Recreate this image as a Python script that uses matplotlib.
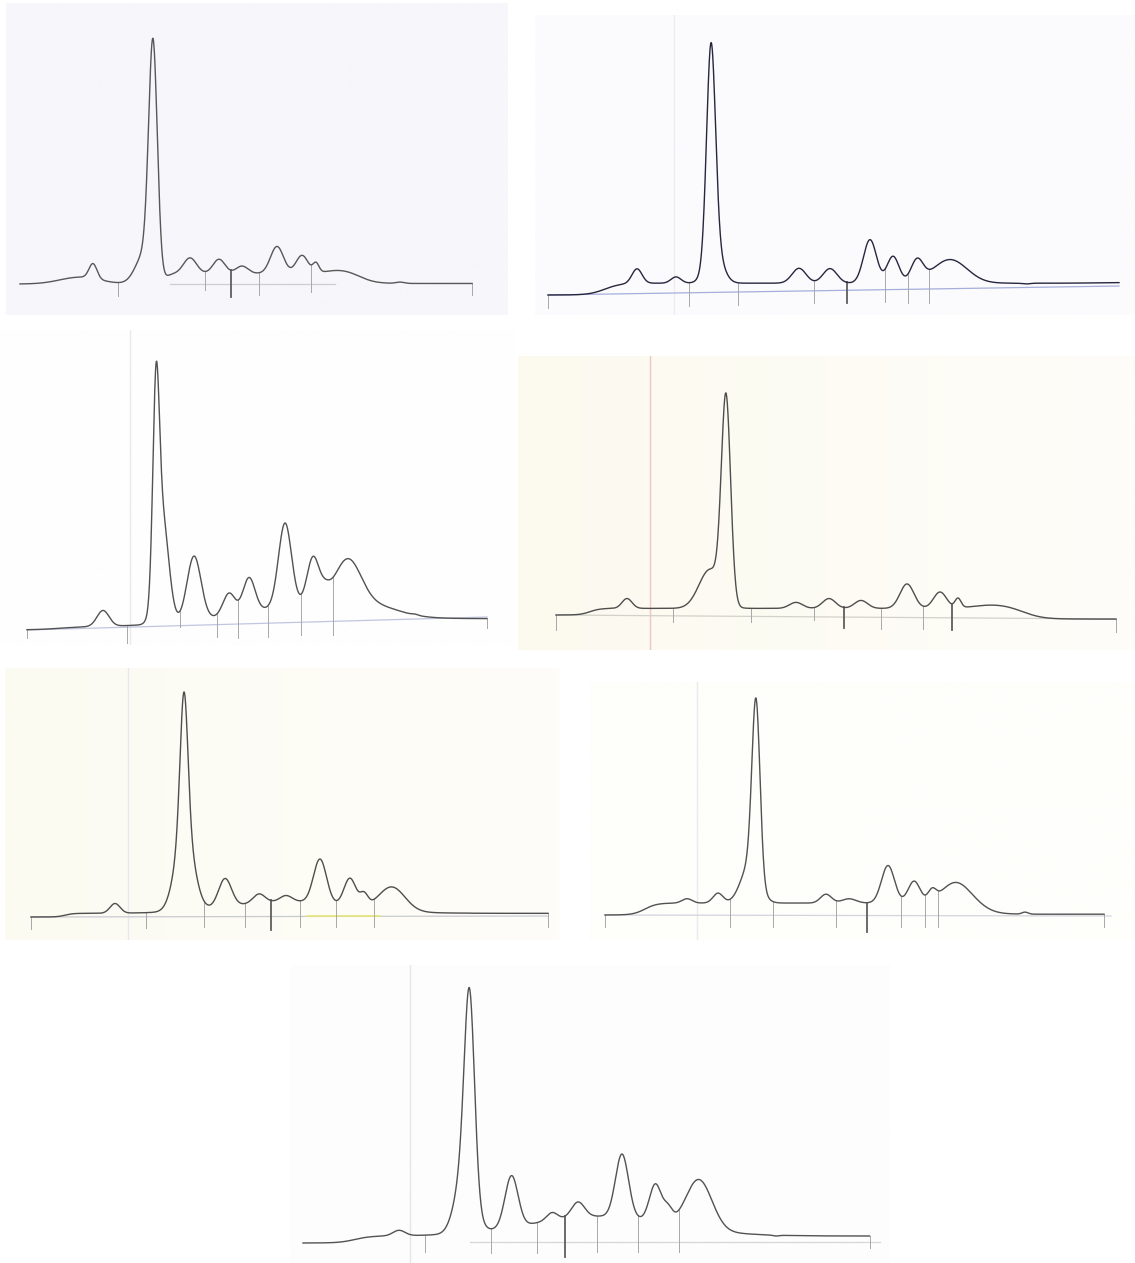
import numpy as np
import matplotlib.pyplot as plt
from matplotlib.colors import to_rgb

W, H = 1135, 1263

# --- densitometry scans: positions along the strip (px) and density above start level ---

# scan 1
p1_box = (6, 3, 508, 315)        # left, top, right, bottom
p1_base = 284
p1_x = [20, 43, 60, 80, 86, 93, 100, 108, 118, 128, 133, 139, 148, 153, 158, 165, 172,
        190, 205, 219, 231, 242, 258, 277, 289, 302, 311, 315, 322, 338, 355, 375, 400, 430, 472]
p1_d = [0, 0, 3, 7, 8, 21, 10, 4, 3, 4, 16, 31, 124, 247, 124, 17, 12,
        27, 11, 26, 11, 19, 7, 39, 17, 29, 21, 22, 12, 15, 8, 1, 2, 1, 1]
p1_peaks = [80, 93, 145, 153, 190, 219, 242, 277, 302, 316, 340, 400]
p1_width = [20, 4, 9, 4.3, 6.5, 6, 6, 6.5, 6, 3, 14, 4]
p1_steps = [(166, 3), (362, 8)]
p1_cuts = [118, 205, 231, 259, 311, 472]
p1_cut_end = [-12, -6, -13, -11, -8, -11]
p1_bold = [231]
p1_line = ([170, 335], [0, 0])

# scan 2
p2_box = (535, 15, 1135, 315)
p2_base = 295
p2_x = [548, 570, 586, 605, 623, 637, 657, 668, 676, 688, 690, 702, 707, 708, 711, 714, 718, 727,
        733, 737, 760, 785, 799, 814, 830, 847, 870, 884, 893, 907, 917, 929, 949, 974, 991,
        1010, 1026, 1050, 1072, 1100, 1119]
p2_d = [0, 0, 0, 4, 8, 27, 7, 12, 19, 10, 12, 42, 133, 205, 258, 205, 133, 42,
        12, 10, 10, 10, 28, 14, 27, 16, 57, 30, 38, 27, 36, 27, 37, 18, 10,
        9, 11, 9, 8, 12, 13]
p2_peaks = [637, 676, 711, 714, 799, 830, 870, 893, 917, 950, 1026]
p2_width = [5, 5, 4.4, 8, 7, 7, 6.5, 6, 6, 17, 4]
p2_steps = [(605, 8), (1090, 8)]
p2_cuts = [548, 689, 738, 814, 847, 885, 908, 929]
p2_cut_end = [-13, -11, -10, -8, -8, -7, -8, -8]
p2_bold = [847]
p2_line = ([548, 1119], [0, 9])

# scan 3
p3_box = (0, 330, 515, 645)
p3_base = 630
p3_x = [27, 50, 67, 90, 103, 120, 133, 152, 153, 154.7, 156, 158.3, 164, 167, 180, 194, 216, 229,
        237, 249, 267, 285, 301, 313, 323, 333, 348, 370, 387, 400, 415, 427, 465, 487]
p3_d = [0, 1, 6, 8, 20, 7, 8, 58, 137, 238, 275, 238, 137, 112, 20, 77, 18, 37,
        32, 54, 22, 111, 40, 75, 55, 49, 75, 38, 12, 12, 16, 12, 16, 15]
p3_peaks = [103, 156, 162, 194, 229, 249, 285, 313, 325, 348, 415]
p3_width = [6, 3.2, 6.5, 7, 6, 6, 6.5, 6, 5, 13, 3]
p3_steps = [(60, 12), (395, 15), (240, 40)]
p3_cuts = [27, 127, 180, 217, 238, 268, 301, 333, 487]
p3_cut_end = [-8, -13, 3, -7, -8, -7, -5, -5, 2]
p3_bold = []
p3_line = ([27, 487], [0, 13])

# scan 4
p4_box = (518, 356, 1135, 650)
p4_base = 615
p4_x = [556, 575, 594, 612, 627, 647, 660, 677, 690, 700, 708, 713, 720.7, 726, 731.7, 737, 740,
        747, 765, 781, 796, 814, 829, 845, 861, 881, 907, 923, 940, 952, 958, 968, 992,
        1036, 1072, 1116]
p4_d = [0, 1, 4, 4, 17, 3, 2, 2, 18, 30, 40, 62, 114, 223, 114, 22, 8,
        4, 5, 6, 13, 7, 17, 7, 15, 5, 32, 13, 23, 15, 17, 8, 10,
        -3, -3, -4]
p4_peaks = [627, 710, 726, 796, 829, 861, 907, 940, 958, 995]
p4_width = [5, 11, 4.6, 6.5, 6.5, 6.5, 7, 6.5, 3, 20]
p4_steps = [(590, 5), (1025, 10)]
p4_cuts = [556, 673, 751, 814, 844, 881, 923, 952, 1116]
p4_cut_end = [-15, -7, -7, -5, -13, -14, -14, -15, -17]
p4_bold = [844, 952]
p4_line = ([556, 1116], [0, -4])

# scan 5
p5_box = (5, 668, 560, 940)
p5_base = 917
p5_x = [31, 60, 67, 79, 99, 115, 132, 147, 161, 168, 173, 179, 184, 190, 195, 199, 204,
        225, 245, 259, 271, 286, 300, 320, 336, 350, 363, 374, 392, 431, 451, 464, 477, 548]
p5_d = [0, 0, 2, 4, 4, 14, 4, 3, 10, 24, 57, 113, 226, 113, 57, 24, 9,
        40, 10, 24, 15, 22, 14, 60, 20, 40, 26, 21, 30, 1, 1, 4, 1, 4]
p5_peaks = [115, 184, 184.5, 225, 259, 286, 320, 350, 364, 392, 464, 290]
p5_width = [5, 3.8, 9, 6.5, 6, 6, 6.5, 6, 4, 13, 3, 60]
p5_steps = [(65, 4)]
p5_cuts = [31, 146, 204, 245, 271, 300, 336, 374, 548]
p5_cut_end = [-12, -11, -10, -10, -13, -10, -10, -10, -10]
p5_bold = [271]
p5_line = ([31, 548], [0, 1])

# scan 6
p6_box = (590, 682, 1135, 940)
p6_base = 915
p6_x = [605, 632, 657, 676, 687, 705, 718, 730, 741, 751, 756, 761, 766, 771, 780, 795, 813,
        826, 836, 849, 867, 888, 901, 914, 925, 932, 939, 956, 975, 997, 1025, 1060, 1104]
p6_d = [0, 1, 7, 7, 17, 3, 23, 11, 42, 109, 218, 109, 55, 11, 11, 8, 8,
        22, 12, 17, 9, 51, 22, 34, 24, 27, 23, 33, 20, 0, 3, 1, 2]
p6_peaks = [687, 718, 750, 756, 826, 849, 888, 914, 932, 956, 1025]
p6_width = [5, 5, 9, 4, 5.5, 7, 6.5, 6, 4, 14, 3]
p6_steps = [(645, 6), (985, 8)]
p6_cuts = [605, 730, 773, 836, 867, 901, 925, 938, 1104]
p6_cut_end = [-12, -12, -12, -12, -17, -12, -12, -12, -12]
p6_bold = [867]
p6_line = ([605, 1111], [0, -1])

# scan 7
p7_box = (290, 965, 890, 1263)
p7_base = 1243
p7_x = [303, 338, 358, 381, 399, 424, 440, 457, 462, 469.5, 477, 490, 511.5, 536, 552, 563, 578,
        597, 622, 638, 655.5, 667, 679, 699, 720, 743, 766, 776, 786, 830, 869.5]
p7_d = [0, 1, 4, 5, 13, 4, 8, 55, 128, 255, 128, 15, 70, 14, 31, 26, 42,
        15, 92, 31, 61, 41, 36, 61, 40, 3, 3, 7, 4, 4, 5]
p7_peaks = [399, 465, 469.5, 511.5, 552, 578, 622, 655.5, 668, 699, 776, 600]
p7_width = [6, 9, 5, 6.5, 5.5, 6.5, 6.5, 6, 4.5, 13, 3, 70]
p7_steps = [(355, 8)]
p7_cuts = [425, 491, 537, 565, 597, 638, 679, 869.5]
p7_cut_end = [-9, -10, -10, -14, -9, -9, -9, -5]
p7_bold = [565]
p7_line = ([470, 880], [1, 1])

# paper tint (left, right) and the faint marker line drawn on each strip
paper = [('#f7f6fb', '#f7f6fb'), ('#fbfbfd', '#fcfcfd'), ('#fefefe', '#fefefe'),
         ('#fcfaef', '#fefdf9'), ('#fcfbf2', '#fefdf9'), ('#fefefa', '#fefefc'),
         ('#fdfdfd', '#fdfdfd')]
marker_x = [None, 674, 130, 650, 128, 697, 410]
marker_col = [None, '#f1eaf1', '#eee8ee', '#eec6c2', '#e8e6f0', '#eee9f0', '#e8e4ea']
trace_col = ['#575757', '#26263e', '#525252', '#4e4e4e', '#4e4e4e', '#525252', '#525252']
line_col = ['#cdcdd6', '#a6aedb', '#c0c6e0', '#d2d2ca', '#c8cbd0', '#d2d4de', '#d6d6d6']


def basis(x, peaks, widths, steps):
    x = np.asarray(x, float)[:, None]
    g = np.exp(-(x - np.asarray(peaks)) ** 2 / (2 * np.asarray(widths) ** 2))
    cols = [g]
    for s, w in steps:
        cols.append(1 / (1 + np.exp(-(x - s) / w)))
    return np.hstack(cols)


def scan_curve(px, pd, peaks, widths, steps, lam=0.05):
    # ridge fit; only the tops of the tall bands get extra weight
    pd = np.asarray(pd, float)
    wt = np.where(pd > 150, 4.0, 1.0)
    A = basis(px, peaks, widths, steps) * wt[:, None]
    coef = np.linalg.solve(A.T @ A + lam * np.eye(A.shape[1]), A.T @ (pd * wt))
    return lambda x: basis(x, peaks, widths, steps) @ coef


scans = [
    (p1_box, p1_base, p1_x, p1_d, p1_peaks, p1_width, p1_steps, p1_cuts, p1_cut_end, p1_bold, p1_line),
    (p2_box, p2_base, p2_x, p2_d, p2_peaks, p2_width, p2_steps, p2_cuts, p2_cut_end, p2_bold, p2_line),
    (p3_box, p3_base, p3_x, p3_d, p3_peaks, p3_width, p3_steps, p3_cuts, p3_cut_end, p3_bold, p3_line),
    (p4_box, p4_base, p4_x, p4_d, p4_peaks, p4_width, p4_steps, p4_cuts, p4_cut_end, p4_bold, p4_line),
    (p5_box, p5_base, p5_x, p5_d, p5_peaks, p5_width, p5_steps, p5_cuts, p5_cut_end, p5_bold, p5_line),
    (p6_box, p6_base, p6_x, p6_d, p6_peaks, p6_width, p6_steps, p6_cuts, p6_cut_end, p6_bold, p6_line),
    (p7_box, p7_base, p7_x, p7_d, p7_peaks, p7_width, p7_steps, p7_cuts, p7_cut_end, p7_bold, p7_line),
]

fig = plt.figure(figsize=(W / 100, H / 100), dpi=100)
fig.patch.set_facecolor('white')

for i, (box, base, px, pd, peaks, widths, steps, cuts, cut_end, bold, bline) in enumerate(scans):
    left, top, right, bottom = box
    ax = fig.add_axes([left / W, 1 - bottom / H, (right - left) / W, (bottom - top) / H])
    ax.set_xlim(left, right)
    ax.set_ylim(base - bottom, base - top)
    ax.set_xticks([])
    ax.set_yticks([])
    for sp in ax.spines.values():
        sp.set_visible(False)

    # paper tint as a soft left-to-right gradient
    c0 = np.array(to_rgb(paper[i][0]))
    c1 = np.array(to_rgb(paper[i][1]))
    t = np.linspace(0, 1, 64)[None, :, None]
    ax.imshow(c0 + (c1 - c0) * t, extent=(left, right, base - bottom, base - top),
              aspect='auto', zorder=0, interpolation='bilinear')

    if marker_x[i] is not None:
        ax.axvline(marker_x[i], color=marker_col[i], lw=1.0, zorder=1)

    curve = scan_curve(px, pd, peaks, widths, steps)
    xs = np.arange(px[0], px[-1] + 0.25, 0.25)
    ys = curve(xs)

    # integration baseline
    ax.plot(bline[0], bline[1], color=line_col[i], lw=0.9, zorder=2)
    if i == 4:
        ax.plot([307, 380], [0.6, 0.6], color='#e8e67a', lw=1.2, zorder=2)

    # peak separation marks
    for cx, ce in zip(cuts, cut_end):
        cy = curve([cx])[0]
        dark = cx in bold
        ax.plot([cx, cx], [cy, ce], color='#5e5e5e' if dark else '#a8a8a8',
                lw=1.3 if dark else 0.7, zorder=3)

    ax.plot(xs, ys, color=trace_col[i], lw=1.0, zorder=4)

fig.savefig('out.png', dpi=100, facecolor='white')
